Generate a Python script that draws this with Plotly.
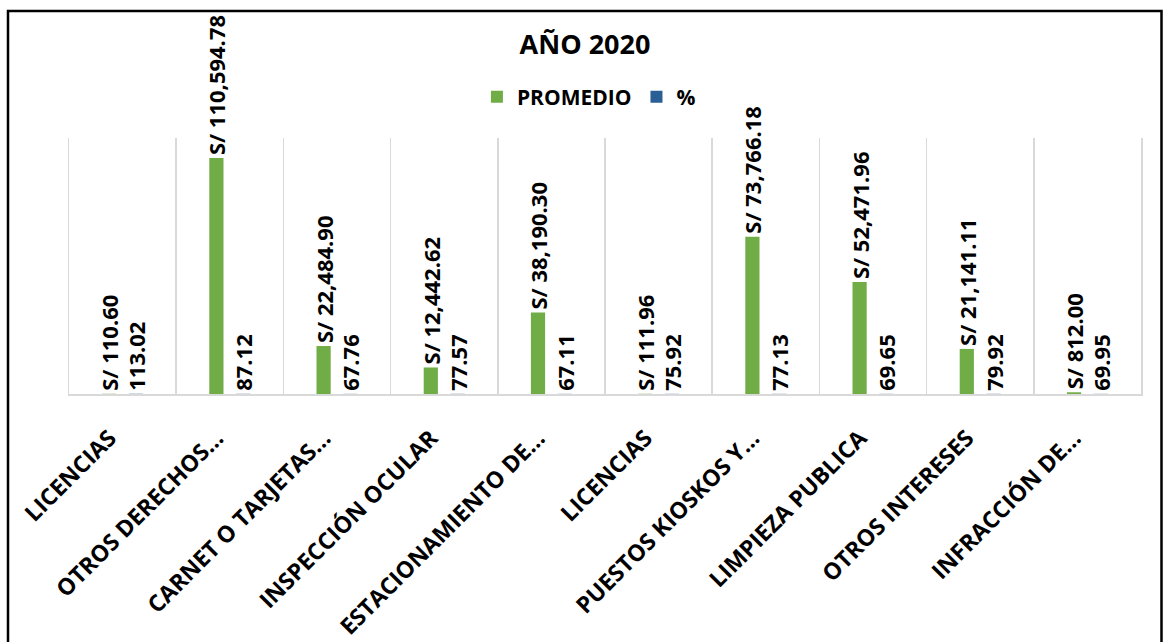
import plotly.graph_objects as go

categories = [
    "LICENCIAS",
    "OTROS DERECHOS…",
    "CARNET O TARJETAS…",
    "INSPECCIÓN OCULAR",
    "ESTACIONAMIENTO DE…",
    "LICENCIAS",
    "PUESTOS KIOSKOS Y…",
    "LIMPIEZA PUBLICA",
    "OTROS INTERESES",
    "INFRACCIÓN DE…",
]
promedio = [110.60, 110594.78, 22484.90, 12442.62, 38190.30, 111.96, 73766.18, 52471.96, 21141.11, 812.00]
porcentaje = [113.02, 87.12, 67.76, 77.57, 67.11, 75.92, 77.13, 69.65, 79.92, 69.95]

GREEN = "#70AD47"
BLUE = "#2A5F95"
FONT = "Open Sans"

x = list(range(len(categories)))

fig = go.Figure()
fig.add_trace(go.Bar(
    x=x, y=promedio, name="PROMEDIO",
    marker=dict(color=GREEN, line=dict(width=0)),
    texttemplate="S/ %{y:,.2f}", textposition="outside", textangle=-90,
    textfont=dict(family=FONT, size=22, color="black", weight="bold"),
    cliponaxis=False, constraintext="none",
))
fig.add_trace(go.Bar(
    x=x, y=porcentaje, name="%",
    marker=dict(color=BLUE, line=dict(width=0)),
    texttemplate="%{y:.2f}", textposition="outside", textangle=-90,
    textfont=dict(family=FONT, size=22, color="black", weight="bold"),
    cliponaxis=False, constraintext="none",
))

fig.update_layout(
    width=1163, height=642,
    paper_bgcolor="white", plot_bgcolor="white",
    margin=dict(l=69, r=22, t=138, b=248, autoexpand=False),
    barmode="group", bargap=0.5, bargroupgap=0.47,
    hovermode=False,
    title=dict(text="AÑO 2020", x=585 / 1163, xref="container", xanchor="center",
               y=1 - 45 / 642, yref="container", yanchor="middle",
               font=dict(family=FONT, size=27, color="black", weight="bold")),
    legend=dict(orientation="h", x=0.485, xanchor="center", y=1.16, yanchor="middle",
                font=dict(family=FONT, size=21, color="black", weight="bold"),
                itemclick=False, bgcolor="rgba(0,0,0,0)"),
    showlegend=True,
    xaxis=dict(
        range=[-0.5, len(categories) - 0.5],
        tickmode="array", tickvals=x, ticktext=categories,
        tickangle=-45, ticks="", showgrid=False, automargin=False,
        tickfont=dict(family=FONT, size=23, color="black", weight="bold"),
        showline=True, linecolor="#D9D9D9", linewidth=1.5,
        minor=dict(tick0=-0.5, dtick=1, showgrid=True, gridcolor="#D9D9D9", gridwidth=1.5, ticks=""),
        ticklabelstandoff=20, ticklabelshift=-13,
        fixedrange=True,
    ),
    yaxis=dict(
        range=[0, 120000], showgrid=False, zeroline=False, showticklabels=False,
        ticks="", showline=True, linecolor="#D9D9D9", linewidth=1.5, mirror=True,
        automargin=False, fixedrange=True,
    ),
    shapes=[dict(
        type="rect", xref="paper", yref="paper",
        x0=(8 - 69) / 1072, x1=(1161.5 - 69) / 1072,
        y0=-2, y1=(394 - 11) / 256,
        line=dict(color="black", width=2.5), fillcolor="rgba(0,0,0,0)", layer="below",
    )],
)

fig.write_html("out.html", config={"displayModeBar": False, "staticPlot": True},
               post_script="document.body.style.margin='0';document.body.style.overflow='hidden';")
